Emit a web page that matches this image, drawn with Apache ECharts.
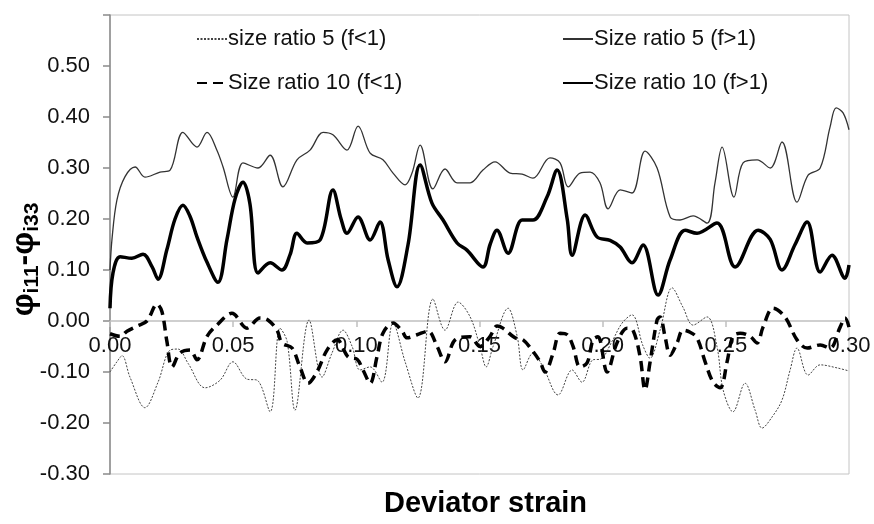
<!DOCTYPE html>
<html>
<head>
<meta charset="utf-8">
<script src="https://cdn.jsdelivr.net/npm/echarts@6/dist/echarts.min.js"></script>
<style>
html,body{margin:0;padding:0;background:#fff;}
#chart{width:874px;height:524px;}
</style>
</head>
<body>
<div id="chart"></div>
<script>
// ---- data ----
var seriesNames = ['size ratio 5 (f<1)', 'Size ratio 5 (f>1)', 'Size ratio 10 (f<1)', 'Size ratio 10 (f>1)'];
var xTicks = [0, 0.05, 0.10, 0.15, 0.20, 0.25, 0.30];
var yTicks = [-0.3, -0.2, -0.1, 0, 0.1, 0.2, 0.3, 0.4, 0.5];

var s5lX = [0,0.0028,0.0049,0.0081,0.0142,0.0195,0.0244,0.0276,0.0317,0.0386,0.0447,0.0499,0.0556,0.0597,0.0650,0.0690,0.0719,0.0751,0.0808,0.0861,0.0901,0.0946,0.0983,0.1015,0.1056,0.1104,0.1149,0.1198,0.1250,0.1311,0.1360,0.1413,0.1462,0.1502,0.1527,0.1555,0.1616,0.1653,0.1677,0.1717,0.1758,0.1819,0.1876,0.1916,0.1961,0.1990,0.2038,0.2079,0.2119,0.2164,0.2192,0.2233,0.2282,0.2326,0.2367,0.2424,0.2464,0.2489,0.2529,0.2578,0.2619,0.2647,0.2688,0.2728,0.2761,0.2789,0.2834,0.2883,0.2952,0.3000];
var s5lY = [-0.100,-0.080,-0.068,-0.110,-0.170,-0.120,-0.057,-0.055,-0.083,-0.131,-0.116,-0.080,-0.114,-0.116,-0.178,-0.014,-0.040,-0.175,0.002,-0.110,-0.063,-0.018,-0.050,-0.096,-0.090,-0.120,-0.004,-0.080,-0.151,0.043,-0.018,0.037,0.008,-0.050,-0.090,-0.050,0.025,-0.030,-0.096,-0.063,-0.090,-0.145,-0.096,-0.120,-0.076,-0.075,-0.040,-0.004,0.012,-0.049,-0.073,-0.018,0.065,0.027,-0.008,0.008,-0.050,-0.135,-0.178,-0.122,-0.175,-0.210,-0.188,-0.155,-0.096,-0.053,-0.106,-0.086,-0.092,-0.098];

var s5gX = [0,0.0008,0.0028,0.0061,0.0102,0.0142,0.0203,0.0244,0.0296,0.0353,0.0394,0.0434,0.0459,0.0499,0.0540,0.0601,0.0650,0.0702,0.0759,0.0812,0.0865,0.0905,0.0962,0.1007,0.1056,0.1108,0.1149,0.1198,0.1226,0.1259,0.1311,0.1360,0.1409,0.1462,0.1514,0.1563,0.1624,0.1673,0.1717,0.1786,0.1827,0.1860,0.1908,0.1949,0.1989,0.2022,0.2071,0.2119,0.2172,0.2221,0.2274,0.2314,0.2367,0.2424,0.2456,0.2485,0.2533,0.2570,0.2627,0.2680,0.2728,0.2789,0.2834,0.2883,0.2923,0.2948,0.2976,0.3000];
var s5gY = [0.10,0.16,0.237,0.283,0.302,0.282,0.292,0.296,0.370,0.341,0.370,0.335,0.302,0.243,0.310,0.300,0.325,0.263,0.316,0.335,0.370,0.365,0.335,0.382,0.329,0.316,0.290,0.267,0.290,0.345,0.259,0.298,0.271,0.271,0.296,0.312,0.290,0.288,0.280,0.320,0.310,0.263,0.290,0.292,0.271,0.220,0.257,0.251,0.333,0.300,0.204,0.198,0.206,0.192,0.271,0.341,0.243,0.310,0.316,0.300,0.351,0.233,0.286,0.300,0.380,0.418,0.408,0.375];

var s10lX = [0,0.0041,0.0069,0.0110,0.0150,0.0191,0.0211,0.0231,0.0252,0.0284,0.0325,0.0353,0.0394,0.0434,0.0495,0.0556,0.0609,0.0641,0.0678,0.0698,0.0739,0.0771,0.0804,0.0840,0.0881,0.0922,0.0966,0.1003,0.1027,0.1056,0.1084,0.1108,0.1149,0.1186,0.1206,0.1246,0.1291,0.1328,0.1360,0.1401,0.1462,0.1502,0.1543,0.1571,0.1595,0.1644,0.1677,0.1713,0.1746,0.1766,0.1799,0.1827,0.1856,0.1880,0.1908,0.1937,0.1961,0.1981,0.2018,0.2058,0.2099,0.2123,0.2152,0.2172,0.2192,0.2221,0.2233,0.2253,0.2274,0.2302,0.2326,0.2355,0.2383,0.2416,0.2448,0.2477,0.2505,0.2529,0.2558,0.2598,0.2627,0.2651,0.2692,0.2740,0.2789,0.2830,0.2883,0.2923,0.2964,0.2984,0.3000];
var s10lY = [-0.025,-0.030,-0.020,-0.010,0.000,0.033,0.018,-0.040,-0.090,-0.063,-0.057,-0.076,-0.030,-0.008,0.015,-0.014,0.006,0.002,-0.018,-0.043,-0.053,-0.090,-0.122,-0.100,-0.057,-0.037,-0.070,-0.075,-0.096,-0.122,-0.070,-0.024,-0.004,-0.020,-0.033,-0.027,-0.020,-0.050,-0.080,-0.037,-0.031,-0.050,-0.030,-0.010,-0.014,-0.033,-0.037,-0.057,-0.080,-0.100,-0.063,-0.024,-0.027,-0.050,-0.090,-0.082,-0.037,-0.031,-0.100,-0.043,-0.014,-0.018,-0.070,-0.135,-0.082,0.002,0.008,-0.030,-0.067,-0.043,-0.018,-0.022,-0.033,-0.080,-0.120,-0.131,-0.080,-0.030,-0.024,-0.030,-0.043,-0.012,0.025,0.008,-0.037,-0.053,-0.047,-0.053,-0.012,0.006,-0.012];

var s10gX = [0,0.0012,0.0041,0.0089,0.0134,0.0171,0.0195,0.0231,0.0264,0.0296,0.0325,0.0353,0.0394,0.0438,0.0475,0.0508,0.0540,0.0568,0.0601,0.0650,0.0698,0.0731,0.0759,0.0800,0.0853,0.0905,0.0938,0.0962,0.1007,0.1056,0.1096,0.1129,0.1165,0.1210,0.1259,0.1307,0.1352,0.1409,0.1449,0.1514,0.1543,0.1571,0.1616,0.1673,0.1717,0.1774,0.1815,0.1856,0.1876,0.1929,0.1977,0.2030,0.2071,0.2119,0.2164,0.2225,0.2274,0.2335,0.2383,0.2464,0.2538,0.2631,0.2680,0.2728,0.2781,0.2830,0.2883,0.2931,0.2984,0.3000];
var s10gY = [0.025,0.094,0.126,0.123,0.131,0.106,0.082,0.140,0.200,0.227,0.205,0.165,0.115,0.076,0.160,0.240,0.272,0.230,0.094,0.114,0.100,0.130,0.172,0.153,0.159,0.257,0.200,0.172,0.204,0.159,0.194,0.120,0.067,0.150,0.306,0.231,0.198,0.153,0.139,0.106,0.150,0.178,0.133,0.198,0.198,0.243,0.296,0.200,0.129,0.208,0.165,0.158,0.145,0.114,0.149,0.051,0.120,0.178,0.172,0.192,0.106,0.178,0.160,0.100,0.150,0.194,0.096,0.129,0.084,0.110];

// ---- build ----
function zip(xs, ys) { return xs.map(function (x, i) { return [x, ys[i]]; }); }
var FONT = 'Liberation Sans, Arial, Helvetica, sans-serif';
var chart = echarts.init(document.getElementById('chart'), null, {renderer: 'canvas'});

var GRID_TOP = 15, GRID_BOTTOM = 50, H = 524;
var Y_MIN = -0.3, Y_MAX = 0.6;
// distance from the bottom of the plot to the y = 0 line (used to lift the x axis onto zero)
var plotH = H - GRID_TOP - GRID_BOTTOM;
var zeroLift = plotH * (0 - Y_MIN) / (Y_MAX - Y_MIN);

function legendAt(name, left, top) {
  return {
    data: [name], left: left, top: top, padding: 0,
    itemWidth: 30, itemHeight: 14, itemGap: 0,
    itemStyle: {opacity: 0},
    textStyle: {fontFamily: FONT, fontSize: 22, color: '#111', padding: [0, 0, 0, -4]},
    selectedMode: false
  };
}

var option = {
  animation: false,
  backgroundColor: '#fff',
  title: {
    text: 'Deviator strain', left: 384, top: 489, padding: 0,
    textStyle: {fontFamily: FONT, fontSize: 29, fontWeight: 'bold', color: '#000'}
  },
  legend: [
    legendAt(seriesNames[0], 196, 28),
    legendAt(seriesNames[1], 562, 28),
    legendAt(seriesNames[2], 196, 72),
    legendAt(seriesNames[3], 562, 72)
  ],
  grid: {
    left: 110, right: 25, top: GRID_TOP, bottom: GRID_BOTTOM,
    outerBoundsMode: 'none', containLabel: false,
    show: true, borderColor: '#c4c4c4', borderWidth: 1, backgroundColor: 'transparent'
  },
  xAxis: {
    type: 'value', min: 0, max: 0.3, interval: 0.05,
    position: 'bottom', offset: -zeroLift,
    axisLine: {onZero: false, lineStyle: {color: '#c0c0c0', width: 1.5}},
    axisTick: {show: true, inside: false, length: 6, lineStyle: {color: '#c0c0c0', width: 1.5}},
    axisLabel: {
      margin: 14, fontFamily: FONT, fontSize: 22, color: '#111',
      formatter: function (v) { return v.toFixed(2); }
    },
    splitLine: {show: false}
  },
  yAxis: {
    type: 'value', min: Y_MIN, max: Y_MAX, interval: 0.1,
    axisLine: {show: true, onZero: false, lineStyle: {color: '#8a8a8a', width: 1.5}},
    axisTick: {show: true, inside: false, length: 7, lineStyle: {color: '#8a8a8a', width: 1.5}},
    axisLabel: {
      margin: 20, fontFamily: FONT, fontSize: 22, color: '#111',
      formatter: function (v) { return v > 0.55 ? '' : v.toFixed(2); }
    },
    splitLine: {show: false},
    name: '{a|φ}{b|i11}{a|-φ}{c|i33}',
    nameLocation: 'middle',
    nameRotate: 90,
    nameGap: 67,
    nameMoveOverlap: false,
    nameTextStyle: {
      rich: {
        a: {fontFamily: FONT, fontSize: 32, fontWeight: 'bold', color: '#000'},
        b: {fontFamily: FONT, fontSize: 21, fontWeight: 'bold', color: '#000', padding: [17, 0, 0, 0]},
        c: {fontFamily: FONT, fontSize: 21, fontWeight: 'bold', color: '#000', padding: [17, 30, 0, 0]}
      }
    }
  },
  series: [
    {
      name: seriesNames[0], type: 'line', data: zip(s5lX, s5lY),
      symbol: 'none', showSymbol: false, smooth: 0.35, clip: true, z: 2,
      itemStyle: {color: '#444'},
      lineStyle: {color: '#444', width: 1, type: [2, 1.5]}
    },
    {
      name: seriesNames[1], type: 'line', data: zip(s5gX, s5gY),
      symbol: 'none', showSymbol: false, smooth: 0.35, clip: true, z: 3,
      itemStyle: {color: '#333'},
      lineStyle: {color: '#333', width: 1.3, type: 'solid'}
    },
    {
      name: seriesNames[2], type: 'line', data: zip(s10lX, s10lY),
      symbol: 'none', showSymbol: false, smooth: 0.35, clip: true, z: 4,
      itemStyle: {color: '#000'},
      lineStyle: {color: '#000', width: 3.5, type: [10, 6]}
    },
    {
      name: seriesNames[3], type: 'line', data: zip(s10gX, s10gY),
      symbol: 'none', showSymbol: false, smooth: 0.35, clip: true, z: 5,
      itemStyle: {color: '#000'},
      lineStyle: {color: '#000', width: 3.5, type: 'solid'}
    }
  ]
};
chart.setOption(option);
</script>
</body>
</html>
